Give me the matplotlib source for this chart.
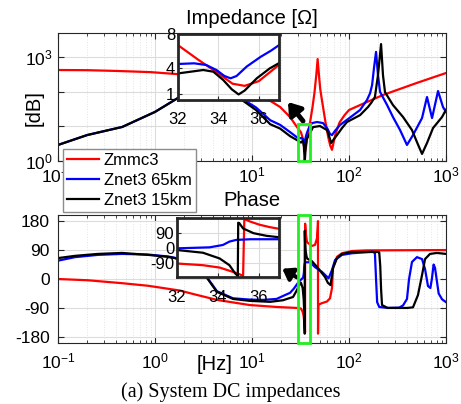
import matplotlib
matplotlib.use("Agg")
import matplotlib.pyplot as plt
from matplotlib.patches import Rectangle
from matplotlib.ticker import FixedLocator, FuncFormatter, LogLocator, NullFormatter

plt.rcParams['font.family'] = ['Liberation Sans', 'DejaVu Sans']
plt.rcParams['mathtext.fontset'] = 'custom'
plt.rcParams['mathtext.rm'] = 'Liberation Sans'
plt.rcParams['mathtext.it'] = 'Liberation Sans:italic'
plt.rcParams['axes.unicode_minus'] = False
plt.rcParams['xtick.direction'] = 'in'
plt.rcParams['ytick.direction'] = 'in'

# ---- data ----
labels = ['Zmmc3', 'Znet3 65km', 'Znet3 15km']
colors = ['#ff0000', '#0000ff', '#000000']

# magnitude [ohm] vs frequency [Hz]
f_mag_red = [0.1, 0.2, 0.4, 0.9, 1.7, 2.9, 5.9, 10.7, 15.3, 19.5, 24.7, 29.1, 32, 33, 34, 34.7,
             35.3, 36, 37, 38, 40, 42, 44, 46, 47.5, 49, 50.5, 52, 54, 57, 61, 64, 66.8, 69,
             72, 75, 80, 90, 100, 130, 224, 500, 1000]
mag_red = [420, 415, 395, 365, 320, 247, 136, 70, 55, 36, 18.5, 9.5, 6.7, 5.0, 3.4, 2.2,
           1.95, 2.5, 4.4, 6.5, 15, 35, 90, 300, 870, 300, 120, 70, 36, 14, 5, 2.8, 2.1, 3.2,
           5.5, 7.8, 13, 21, 29.5, 41, 80, 178, 344]

f_mag_blue = [0.1, 0.2, 0.46, 1.0, 1.73, 2.5, 3.5, 5, 7.9, 11, 15.4, 19.5, 24.7, 29.1, 32,
              32.8, 33.4, 33.9, 34.3, 34.6, 34.9, 35.4, 36.1, 36.6, 37, 39, 41.6, 46.8, 54,
              60, 63.7, 66.8, 72, 80.7, 100, 130, 153, 165, 173, 181, 190, 199, 209, 247,
              284, 336, 396, 457, 566, 637, 718, 828, 931, 1000]
mag_blue = [2.9, 5.6, 9.6, 26, 66, 95, 105, 92, 62, 35, 15, 11, 6.8, 4.8, 4.5,
            4.58, 4.38, 3.8, 3.1, 2.83, 3.1, 4.2, 5.35, 6.05, 6.7, 9.5, 12.4, 13.3, 12.4,
            8.5, 6.0, 5.6, 7.5, 10.9, 17, 29.5, 57, 90, 155, 480, 1400, 300, 98, 41,
            18.5, 7.8, 2.9, 5.6, 17.3, 70, 17.3, 104, 36, 26]

f_mag_black = [0.1, 0.2, 0.46, 1.0, 1.73, 2.5, 3.5, 5, 7.9, 11, 15.4, 19.5, 24.7, 29.1, 32,
               33.25, 33.75, 34.24, 34.66, 35.0, 35.3, 35.9, 36.55, 37, 37.8, 42.6, 50.2,
               59.3, 62, 65.5, 70, 75.2, 85, 95.3, 130, 157, 170, 185, 199, 214, 224, 235,
               284, 361, 446, 502, 566, 637, 735, 910, 1000]
mag_black = [2.9, 5.6, 9.6, 26, 66, 92, 100, 85, 57, 29.5, 11.5, 8.6, 5.2, 4.0, 3.4,
             3.8, 3.6, 2.63, 1.55, 0.95, 1.4, 2.83, 4.0, 4.6, 4.9, 9.5, 10.2,
             7.8, 5.5, 3.3, 4.3, 5.6, 9, 13.3, 21, 36, 48, 70, 300, 2350, 300, 97,
             41, 18.5, 7.8, 3.5, 1.6, 3.3, 8.9, 18.5, 30]

# phase [deg] vs frequency [Hz]
f_ph_red = [0.1, 0.204, 0.457, 0.847, 1.27, 1.81, 2.5, 4.35, 9.5, 18, 29.1, 32, 33.27, 34.09,
            34.75, 35.07, 35.24, 35.3, 35.56, 36.05, 36.54, 37, 37.8, 41.6, 44.6, 46.8, 47.8,
            47.9, 47.95, 48.3, 52.7, 59.3, 63.7, 66.8, 68.4, 75.2, 84.7, 107, 150, 1000]
ph_red = [0, -4, -13, -21, -29, -36, -47, -65, -81, -87, -90, -92, -102, -116,
          -142, -156, -166, 172, 158, 138, 124, 114, 112, 103, 106, 127, 170,
          180, -170, -80, -75, -70, -60, -28, 34, 69, 80, 87, 89, 90]

f_ph_blue = [0.1, 0.15, 0.258, 0.457, 0.847, 1.36, 1.6, 2.0, 2.5, 3.0, 3.44, 4.35, 6.37, 9.5,
             13, 17.9, 21.9, 24.7, 27, 29.8, 32, 33.6, 34.25, 34.57, 34.9, 35.6, 37, 39.6,
             44.6, 52.7, 59.3, 61.5, 66.8, 71.8, 84.7, 107, 177, 185, 190, 195, 205, 250,
             330, 361, 396, 416, 446, 502, 566, 608, 652, 690, 715, 745, 770, 800, 840, 910,
             1000]
ph_blue = [57, 68, 75, 78, 76, 70, 66, 55, 40, 20, 5, -38, -60, -64,
           -65, -62, -50, -43, -30, -12, -2, 4, 18, 38, 48, 52, 52, 52,
           37, 22, 7, 2, 28, 59, 75, 80, 85, 80, 0, -72, -87, -90,
           -89, -82, -62, 0, 53, 68, 62, 31, -22, -28, 0, 45, 35, 0, -45, -63,
           -72]

f_ph_black = [0.1, 0.15, 0.258, 0.457, 0.847, 1.36, 1.6, 2.0, 2.5, 3.0, 3.44, 4.35, 6.37, 9.5,
              15.4, 20.9, 24, 26.5, 29.1, 30.5, 32, 33.27, 34.09, 34.57, 34.86, 34.95, 34.98,
              35.0, 35.05, 35.24, 35.75, 36.4, 37, 37.8, 41.6, 47.9, 56.6, 60.6, 64.5, 68.4,
              75.2, 84.7, 107, 199, 205, 210, 214, 219, 250, 400, 457, 514, 566, 608, 684,
              807, 1000]
ph_black = [65, 72, 78, 81, 75, 69, 65, 55, 40, 22, 3, -40, -62, -68,
            -71, -66, -60, -56, -34, -20, -12, -28, -62, -102, -152, -162, -170,
            150, 148, 116, 88, 72, 64, 62, 55, 34, 6, -12, -19, 34,
            65, 78, 84, 84, 83, 40, -30, -81, -90, -90, -88, -50, 12, 62, 78,
            81, 78]

mag_series = [(f_mag_red, mag_red), (f_mag_blue, mag_blue), (f_mag_black, mag_black)]
ph_series = [(f_ph_red, ph_red), (f_ph_blue, ph_blue), (f_ph_black, ph_black)]

W, H = 461, 404
fig = plt.figure(figsize=(W / 100, H / 100), dpi=100)


def px_box(x0, y0, x1, y1):
    # pixel box (top-left origin) -> figure fraction rect
    return [x0 / W, 1 - y1 / H, (x1 - x0) / W, (y1 - y0) / H]


def style_main(ax):
    ax.set_xscale('log')
    ax.set_xlim(0.1, 1000)
    ax.xaxis.set_major_locator(LogLocator(base=10, numticks=10))
    ax.xaxis.set_minor_locator(LogLocator(base=10, subs=range(2, 10), numticks=20))
    ax.xaxis.set_minor_formatter(NullFormatter())
    ax.grid(True, which='major', color='#dcdcdc', lw=0.8)
    ax.grid(True, which='minor', axis='x', color='#e4e4e4', lw=0.7, ls=':')
    ax.set_axisbelow(True)
    ax.tick_params(which='both', top=True, right=True, labelsize=12.5, color='#262626')
    ax.tick_params(which='major', length=4)
    ax.tick_params(which='minor', length=2)
    for s in ax.spines.values():
        s.set_color('#262626')
        s.set_linewidth(0.8)


def style_inset(ax):
    ax.grid(True, color='#dcdcdc', lw=0.8)
    ax.set_axisbelow(True)
    ax.set_xlim(32, 37)
    ax.set_xticks([32, 34, 36])
    ax.tick_params(labelsize=12, length=3, color='#262626')
    ax.tick_params(axis='x', pad=9)
    ax.tick_params(axis='y', pad=2)
    for s in ax.spines.values():
        s.set_color('#262626')
        s.set_linewidth(2)


# ---- magnitude ----
ax_mag = fig.add_axes(px_box(58, 33, 446, 161))
handles = []
for (f, v), c, lab in zip(mag_series, colors, labels):
    h, = ax_mag.plot(f, v, color=c, lw=1.6, label=lab)
    handles.append(h)
ax_mag.set_yscale('log')
style_main(ax_mag)
ax_mag.set_ylim(1, 4900)
ax_mag.yaxis.set_major_locator(FixedLocator([1, 10, 100, 1000]))
ax_mag.yaxis.set_minor_locator(FixedLocator([]))
ax_mag.yaxis.set_major_formatter(FuncFormatter(
    lambda v, p: {1: r'$10^{0}$', 1000: r'$10^{3}$'}.get(int(round(v)), '')))
# the 10^0 label sits under the legend in the original, so leave it out
ax_mag.xaxis.set_major_formatter(FuncFormatter(
    lambda v, p: '' if abs(v - 1) < 1e-9 else r'$10^{%d}$' % round(__import__('math').log10(v))))
ax_mag.tick_params(axis='x', pad=3)
ax_mag.tick_params(axis='y', pad=4)
ax_mag.add_patch(Rectangle((29.8, 1.0), 39.6 - 29.8, 11.7 - 1.0, fill=False,
                           ec='#22ee22', lw=2, clip_on=False, zorder=5))
ax_mag.annotate('', xy=(23.5, 50), xytext=(33.6, 14.2),
                arrowprops=dict(arrowstyle='-|>,head_length=0.5,head_width=0.35',
                                lw=3.5, color='k', mutation_scale=14,
                                shrinkA=0, shrinkB=0))

# ---- phase ----
ax_ph = fig.add_axes(px_box(58, 215, 446, 343))
for (f, v), c in zip(ph_series, colors):
    ax_ph.plot(f, v, color=c, lw=1.6)
style_main(ax_ph)
ax_ph.set_ylim(-199, 199)
ax_ph.set_yticks([-180, -90, 0, 90, 180])
ax_ph.tick_params(axis='x', pad=6)
ax_ph.tick_params(axis='y', pad=6)
ax_ph.add_patch(Rectangle((29.8, -199), 39.6 - 29.8, 398, fill=False,
                          ec='#22ee22', lw=2, clip_on=False, zorder=5))
ax_ph.annotate('', xy=(20.5, 32), xytext=(29.1, 5),
               arrowprops=dict(arrowstyle='-|>,head_length=0.5,head_width=0.35',
                               lw=3.0, color='k', mutation_scale=12,
                               shrinkA=0, shrinkB=0))

# ---- insets ----
ins_mag = fig.add_axes(px_box(178, 34, 279, 100))
for (f, v), c in zip(mag_series, colors):
    ins_mag.plot(f, v, color=c, lw=1.6)
style_inset(ins_mag)
ins_mag.set_ylim(0.3, 8)
ins_mag.set_yticks([1, 4, 8])

ins_ph = fig.add_axes(px_box(177, 218, 279, 277))
for (f, v), c in zip(ph_series, colors):
    ins_ph.plot(f, v, color=c, lw=1.6)
style_inset(ins_ph)
ins_ph.set_ylim(-172, 178)
ins_ph.set_yticks([-90, 0, 90])

# ---- texts ----
fig.text(252 / W, 1 - 18 / H, 'Impedance [Ω]', fontsize=14.5, ha='center', va='center')
fig.text(252 / W, 1 - 200 / H, 'Phase', fontsize=14.5, ha='center', va='center')
fig.text(34 / W, 1 - 108 / H, '[dB]', fontsize=14.5, rotation=90, ha='center', va='center')
fig.text(215 / W, 1 - 364 / H, '[Hz]', fontsize=14.5, ha='center', va='center')
fig.text(231 / W, 1 - 392 / H, '(a) System DC impedances', fontsize=14.5,
         family='Liberation Serif', ha='center', va='center')

fig.legend(handles, labels, loc='upper left', bbox_to_anchor=(63 / W, 1 - 149 / H),
           fontsize=12, frameon=True, fancybox=False, edgecolor='#8c8c8c', framealpha=1,
           borderpad=0.25, labelspacing=0.3, handlelength=1.9, handletextpad=0.3,
           borderaxespad=0)

fig.savefig('out.png', dpi=100)
